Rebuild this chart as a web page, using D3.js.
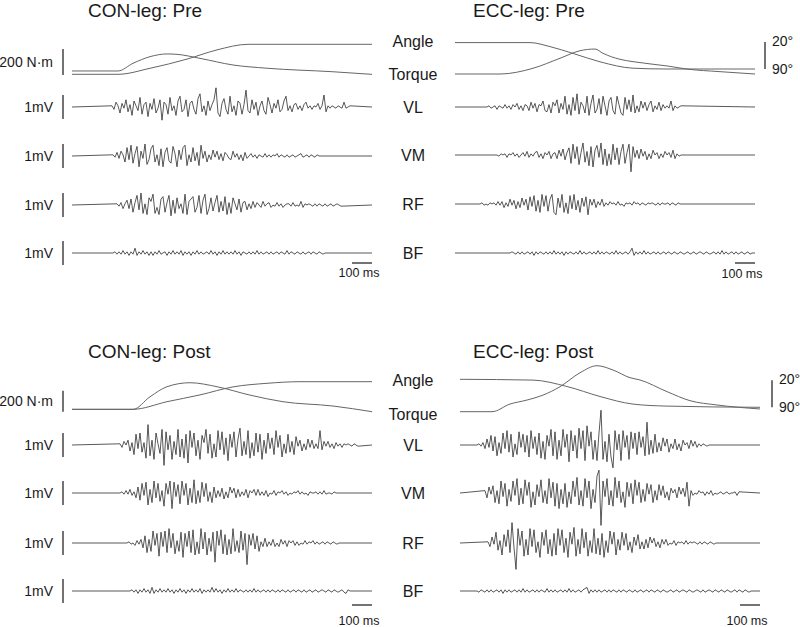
<!DOCTYPE html>
<html>
<head>
<meta charset="utf-8">
<script src="https://cdn.jsdelivr.net/npm/d3@7"></script>
<style>
  body { margin: 0; background: #fff; }
  svg { display: block; font-family: "Liberation Sans", Arial, sans-serif; }
</style>
</head>
<body>
<div id="chart"></div>
<script>
const rowLabels = ["Angle", "Torque", "VL", "VM", "RF", "BF"]
const TRACE_MS = 1500
const EMG_STEP_MS = 10      // one EMG sample every 10 ms
const EMG_UNIT_MV = 0.05    // EMG values are in units of 0.05 mV

// knee angle (deg) and torque (N·m) against time (ms)
const conPreAngle = [[0, 90], [230, 90], [390, 75], [575, 52], [725, 29], [880, 15], [1500, 15]]
const conPreTorque = [[0, 31], [230, 31], [305, 90], [390, 141], [475, 162], [525, 159], [640, 128], [805, 77], [975, 52], [1305, 25], [1500, 5]]
const eccPreAngle = [[0, 24], [375, 24], [475, 34], [590, 51], [725, 72], [890, 88], [1060, 90], [1500, 90]]
const eccPreTorque = [[0, 0], [225, 0], [390, 44], [525, 121], [625, 179], [700, 192], [740, 159], [825, 113], [890, 95], [1060, 62], [1160, 38], [1325, 18], [1500, 0]]
const conPostAngle = [[0, 90], [305, 90], [475, 71], [640, 54], [805, 34], [975, 25], [1140, 21], [1500, 21]]
const conPostTorque = [[0, 22], [305, 22], [390, 142], [475, 238], [590, 276], [725, 238], [890, 158], [1055, 95], [1305, 54], [1500, 0]]
const eccPostAngle = [[0, 20], [365, 22], [535, 38], [700, 63], [865, 82], [1035, 87], [1500, 90]]
const eccPostTorque = [[0, 0], [160, 0], [250, 73], [335, 111], [415, 158], [500, 238], [600, 371], [685, 438], [765, 397], [850, 324], [900, 302], [1035, 191], [1150, 105], [1285, 64], [1500, 26]]

// EMG onset (ms) for VL, VM, RF, BF
const conPreOnsets = [200, 205, 225, 205]
const eccPreOnsets = [160, 210, 125, 275]
const conPostOnsets = [240, 240, 275, 290]
const eccPostOnsets = [85, 125, 140, 85]

// EMG samples
const conPreVL = [1,-2,4,1,-5,3,-1,6,-4,2, -7,5,1,-3,8,-6,2,4,-8,3, -2,7,-5,-1,6,-11,4,2,-6,8, -3,1,-7,5,9,-4,-2,6,-8,3, 5,-2,-6,7,11,-4,1,-7,5,-3, 2,6,16,-5,-8,3,7,-2,-6,9, -4,1,-7,5,3,-6,2,14,-3,-5, 6,-2,4,-7,1,5,-3,-6,8,2, -5,3,-1,6,-4,-2,5,9,-3,1, -4,2,3,-2,1,-3,2,4,-1,1, -2,1,0,3,-2,1,10,-4,1,-1, 1,0,-1,1,0,-1,4,-1,0,1]
const conPreVM = [1,-1,3,-2,4,1,-5,7,-3,9, -6,2,8,-9,4,-2,10,-7,-3,6, 9,-5,1,-8,6,-9,3,7,-4,-6, 8,2,-9,5,-3,7,9,-8,1,-5, 7,-4,3,-8,9,-2,4,-5,1,-3, 5,-1,4,-3,2,-4,3,1,-2,-3, 4,-1,2,-3,1,-4,3,-2,0,2, -1,1,-2,1,0,-1,2,-1,1,-1, 1,0,2,-1,1,0,-1,1,-1,0, 1,-1,0,1,2,-1,0,1,-1,1, 0,-1,1,0]
const conPreRF = [1,-1,2,-3,1,4,-3,5,-6,2, 8,-4,10,-7,1,-8,6,3,9,-7, -2,-8,5,7,-6,2,8,-9,4,-7, 6,-3,1,-7,9,-8,3,5,7,-6, -2,8,-7,4,9,-8,-3,6,-5,2, 8,-6,3,-5,7,-8,2,-7,6,1, -4,5,-6,2,3,-4,1,-3,3,-2, 2,0,-2,3,-1,1,2,-2,0,-1, 2,-1,1,-2,0,1,1,-1,2,-1, 0,-1,3,-2,1,0,1,0,-1,1, -1,1,0,-1,1,-1,0,1,-1,0,1,0,-1]
const conPreBF = [0,1,-1,1,-1,2,-1,1,-2,1, -1,4,-2,1,-1,2,-1,1,-2,1, -2,1,-1,2,-1,0,1,-2,1,-1, 2,-1,1,-1,2,-2,1,-1,1,-2, 1,-1,2,-1,1,-1,0,1,-1,2, -1,1,-2,1,-1,2,-1,1,-1,1, -1,2,-1,1,-2,1,0,-1,1,-1, 1,-1,2,-1,1,-1,0,1,-1,1, -1,0,1,-1,1,0,-1,2,-1,1, 0,-1,1,0,-1,1,-1,0,1,-1, 1,0,-1,1,0,-1,0]

const eccPreVL = [0,1,-1,0,1,-2,1,0,-1,2, -1,1,-2,2,0,3,-2,1,-3,2, 1,-3,4,-1,3,-4,2,1,5,-3, -4,2,-5,4,1,6,-5,3,-2,9, -6,2,-7,8,-3,11,-6,4,1,-5, 9,-7,3,10,-5,-2,7,-6,9,1, -7,5,8,-3,-6,9,2,-5,-7,8, -2,6,-4,10,-5,1,-4,5,-1,4, -3,2,5,-4,1,-2,4,-3,2,-1, 1,-1,5,-3,1,-1,0,1]
const eccPreVM = [0,-1,1,0,1,-2,1,0,2,-1, 1,-2,0,2,-1,3,-2,1,-1,2, 3,-2,1,-3,2,0,3,-3,1,2, -3,4,-1,5,-4,2,6,-7,9,-3, 7,-8,2,10,-6,3,-9,7,-10,4, 8,-2,10,-8,5,-9,1,-8,9,-4, 6,-8,3,9,-7,2,9,-14,7,-2, 4,-3,5,-1,3,-4,1,-3,4,0, 2,-3,1,-2,3,0,2,-2,4,-3, 1,-1,0]
const eccPreRF = [0,1,-1,0,-1,1,0,1,-1,2, -1,2,-3,1,-2,4,-1,3,-4,2, -3,5,-1,4,-5,6,-2,7,-6,3, -7,8,-2,7,-6,4,8,-7,-9,5, -3,8,-7,1,-8,7,-4,8,-5,3, -7,5,-2,6,-9,4,-1,4,-3,2, -1,4,-2,1,-1,2,0,1,-1,2, -1,0,-2,1,0,1,-1,2,0,1, -1,1,0,-1,1,0,1,0,-1,1, -1,1,0,0,1,-1,1,0,-1,1,0,0]
const eccPreBF = [0,1,0,-1,1,-1,1,-1,0,1, -1,1,-2,1,-1,1,0,-1,1,-1, 1,-1,2,-1,1,-1,1,-2,1,-1, 1,0,-1,1,-1,2,-1,1,-1,0, 1,-1,1,-1,2,-1,1,-1,1,0, -1,1,-1,2,-1,1,-1,0,1,-1, 1,4,-2,1,-1,1,-1,2,-1,1, -1,0,1,-1,1,-1,0,1,-1,1, 0,-1,1,0,-1,1,0,-1,0,1, -1,0,1,-1,0,1,0,-1,1,0, -1,0,1,-1,1,-1,2,-1,1,-1, 0,1,-1,1,-1,0,1,-1,0,1,-1,0]

const conPostVL = [1,-2,3,0,4,-5,2,-8,9,-3, 10,-6,2,-11,17,-9,4,-12,10,1, -7,13,-17,11,-4,8,-12,3,-8,13, -10,5,-11,9,-15,12,-2,10,-9,4, -12,8,2,13,-7,9,-11,1,-10,12, -4,11,-8,6,-13,9,-2,11,-10,5, 14,-9,3,-8,12,-11,2,-9,10,-6, 9,-12,4,-7,10,-3,6,-8,12,-2, 8,-10,1,-7,9,-6,3,-8,7,-1, 4,-5,1,-4,5,-2,4,-3,1,-3, 12,-4,3,-1,3,-2,1,-3,2,-1, 1,-2,1,0,1,0,-1,1,0,-1]
const conPostVM = [0,1,-1,2,-1,3,-2,1,-4,5, -6,8,-2,9,-10,3,-8,10,-4,8, -7,2,-11,8,-1,10,-13,9,-3,7, -9,10,-2,8,-10,4,-8,11,-9,2, -8,9,-3,8,-7,1,-8,5,-4,2, -3,4,-5,1,-4,5,0,4,-4,3, -3,1,-2,3,-4,2,0,3,-2,3, -2,1,-2,2,-3,0,-1,2,-2,1, 0,2,-1,1,-2,0,-1,1,0,2, -1,1,-1,0,-2,1,0,0,1,-1, 1,-1,2,-1,0,0,-1,1,0,0]
const conPostRF = [0,1,-1,0,-2,2,-1,3,-4,6, -8,3,-7,10,-2,8,-11,9,-3,10, -8,12,-4,8,-9,2,-7,9,-12,8, -3,10,-8,11,-10,1,-9,12,-5,9, -10,4,-7,9,-16,10,-2,11,-9,7, -10,3,-9,12,-7,2,-8,10,-6,8, -18,7,-2,8,-5,6,-7,1,-3,4, -3,1,-2,3,-3,0,-3,3,-1,2, -3,2,0,2,-2,1,-2,0,-1,2, -1,1,0,2,-1,1,-1,0,1,-1, 1,0,-1,1,0,-1,0]
const conPostBF = [0,1,-1,1,-2,1,-1,2,-1,1, -2,3,-2,1,-1,2,-1,1,-1,2, -1,1,-2,1,-1,2,-1,1,-2,1, -1,2,-1,1,-1,2,-2,1,-1,1, -1,3,-1,2,-1,1,-2,1,-1,2, -1,1,-1,2,-1,1,0,-1,1,-1, 1,-1,2,-1,1,-1,0,1,-1,1, -1,1,0,-1,1,-1,1,0,-1,1, -1,0,1,-1,1,0,-1,1,-1,0, 1,-1,0,1,-1,0,1,0,-1,1, 0,-1,1,0,-1,0,1,-1,-2,1,0,0]

const eccPostVL = [0,1,-1,2,-3,5,-2,8,-5,7, -9,2,-7,10,-3,12,-6,9,-10,1, -8,11,-2,9,-6,8,-10,12,-3,7, -8,10,-11,3,-12,8,-1,13,-9,11, -12,4,-9,13,-2,9,-14,12,-5,8, -11,14,-3,12,-13,16,-1,11,-12,4, -13,10,29,-12,3,-14,9,-10,-19,12, -4,9,-13,12,-2,8,-12,11,-3,10, -8,11,-2,7,-9,19,-8,4,-7,9, -6,2,-5,6,-1,5,-6,1,-3,5, -4,1,-5,4,0,2,-3,4,-1,3, -2,1,-1,1,0,-1,0]
const eccPostVM = [2,-4,5,-1,6,-8,2,-9,10,-3, 8,-11,3,-7,10,-2,12,-10,4,-9, 11,-2,9,-12,1,-10,7,-3,11,-8, 2,-9,12,-4,9,-11,8,-13,3,-9, 8,-12,1,-9,10,-3,13,-10,2,-11, 12,-4,10,-13,3,-8,14,19,-27,10, -3,12,-10,2,-11,13,-4,10,-8,1, -12,9,-3,8,-9,11,-2,9,-8,3, -7,8,-1,7,-8,2,-6,7,-2,6, -4,1,-6,4,0,3,-4,5,-1,4, -3,9,-11,2,-2,0,-1,2,0,1, -2,1,-1,2,-2,0,-1,0,1,-1, 0,1,-1,0,0,1,-2,1]
const eccPostRF = [1,-3,5,-1,9,-6,2,-10,7,-3, 11,-8,17,-4,-22,12,-2,10,-11,3, -10,12,-3,11,-8,1,-12,9,-2,11, -9,3,-11,8,-10,12,-2,11,-8,4, -12,9,-1,13,-11,3,-9,12,-4,9, -11,2,-8,12,-9,4,-10,8,-12,2, -8,10,-1,9,-10,3,-6,9,-2,8, -6,1,-8,5,-2,7,-5,1,-5,3, -4,5,0,4,-3,1,-4,3,-1,3, -2,0,-1,2,-2,1,0,1,-1,2, -1,1,0,1,0,-1,1,-1,1,0, -1,1,0,-1,0,0]
const eccPostBF = [0,-1,1,0,-1,1,-1,1,-1,0, 1,-1,1,-2,1,-1,1,-1,0,1, -1,1,-1,2,-1,1,-1,0,1,-1, 1,-1,1,0,-1,2,-1,1,-1,1, -1,0,1,-1,1,-1,2,-1,1,-1, 0,1,-1,1,2,3,-2,1,-1,1, -1,1,-1,0,1,-1,1,-1,1,0, -1,1,-1,1,0,-1,1,0,-1,1, -1,0,1,-1,0,1,-1,1,0,-1, 1,0,-1,1,0,-1,0,1,-1,0, 1,-1,0,1,0,-1,1,0,-1,0, 1,0,-1,1,-1,0,1,0,-1,1, 0,-1,1,0,-1,1,0,-1,0,1, -1,1,0,-1,1,0,-1,0]

// layout of the four panels
const panels = [
  { title: "CON-leg: Pre", titleX: 88, titleY: 17, x0: 72, side: "left",
    angle: conPreAngle, torque: conPreTorque, angleY90: 74.3, torqueY0: 75, torquePx200: 26,
    emg: [conPreVL, conPreVM, conPreRF, conPreBF], onsets: conPreOnsets,
    rows: [107, 156, 205, 253], timeBarY: 263, timeTextY: 277 },
  { title: "ECC-leg: Pre", titleX: 473, titleY: 17, x0: 455, side: "right", barX: 765,
    angle: eccPreAngle, torque: eccPreTorque, angleY90: 69, torqueY0: 74, torquePx200: 26,
    emg: [eccPreVL, eccPreVM, eccPreRF, eccPreBF], onsets: eccPreOnsets,
    rows: [107, 155, 204, 253], timeBarY: 263, timeTextY: 278 },
  { title: "CON-leg: Post", titleX: 88, titleY: 358, x0: 72, side: "left",
    angle: conPostAngle, torque: conPostTorque, angleY90: 409.3, torqueY0: 411.7, torquePx200: 21,
    emg: [conPostVL, conPostVM, conPostRF, conPostBF], onsets: conPostOnsets,
    rows: [445, 493, 543, 591], timeBarY: 605, timeTextY: 625 },
  { title: "ECC-leg: Post", titleX: 473, titleY: 358, x0: 460, side: "right", barX: 772,
    angle: eccPostAngle, torque: eccPostTorque, angleY90: 407.3, torqueY0: 411.7, torquePx200: 21,
    emg: [eccPostVL, eccPostVM, eccPostRF, eccPostBF], onsets: eccPostOnsets,
    rows: [445, 493, 543, 591], timeBarY: 605, timeTextY: 625 }
]

const svg = d3.select("#chart").append("svg")
  .attr("width", 800)
  .attr("height", 627)

const textColor = "#1a1a1a"

panels.forEach(p => {
  const g = svg.append("g")
  const x = d3.scaleLinear().domain([0, TRACE_MS]).range([p.x0, p.x0 + 300])

  g.append("text")
    .attr("x", p.titleX).attr("y", p.titleY)
    .attr("font-size", "19px").attr("fill", textColor)
    .text(p.title)

  // mechanical traces
  const yAngle = d3.scaleLinear().domain([90, 20]).range([p.angleY90, p.angleY90 - 28])
  const yTorque = d3.scaleLinear().domain([0, 200]).range([p.torqueY0, p.torqueY0 - p.torquePx200])

  const angleLine = d3.line().curve(d3.curveMonotoneX)
    .x(d => x(d[0])).y(d => yAngle(d[1]))
  const torqueLine = d3.line().curve(d3.curveMonotoneX)
    .x(d => x(d[0])).y(d => yTorque(d[1]))

  g.append("path").attr("d", angleLine(p.angle))
    .attr("fill", "none").attr("stroke", "#666").attr("stroke-width", 1)
  g.append("path").attr("d", torqueLine(p.torque))
    .attr("fill", "none").attr("stroke", "#666").attr("stroke-width", 1)

  // EMG traces
  p.emg.forEach((vals, i) => {
    const cy = p.rows[i]
    const y = d3.scaleLinear().domain([-0.5, 0.5]).range([cy + 12, cy - 12])
    const onset = p.onsets[i]
    const pts = [[0, 0]].concat(vals.map((v, k) => [onset + k * EMG_STEP_MS, v * EMG_UNIT_MV]))
    const last = onset + (vals.length - 1) * EMG_STEP_MS
    if (last < TRACE_MS) pts.push([TRACE_MS, 0])

    const emgLine = d3.line().x(d => x(d[0])).y(d => y(d[1]))
    g.append("path").attr("d", emgLine(pts))
      .attr("fill", "none").attr("stroke", "#222").attr("stroke-width", 0.75)

    if (p.side === "left") {
      g.append("line")
        .attr("x1", 63).attr("x2", 63)
        .attr("y1", y(-0.5)).attr("y2", y(0.5))
        .attr("stroke", "#444").attr("stroke-width", 1.5)
      g.append("text")
        .attr("x", 53).attr("y", cy + 5)
        .attr("text-anchor", "end").attr("font-size", "14px").attr("fill", textColor)
        .text("1mV")
    }
  })

  // scale bars for torque (left) and angle (right)
  if (p.side === "left") {
    g.append("line")
      .attr("x1", 63).attr("x2", 63)
      .attr("y1", yTorque(0)).attr("y2", yTorque(200))
      .attr("stroke", "#444").attr("stroke-width", 1.5)
    g.append("text")
      .attr("x", 53).attr("y", (yTorque(0) + yTorque(200)) / 2 + 5)
      .attr("text-anchor", "end").attr("font-size", "14px").attr("fill", textColor)
      .text("200 N·m")
  } else {
    g.append("line")
      .attr("x1", p.barX).attr("x2", p.barX)
      .attr("y1", yAngle(20) + 1).attr("y2", yAngle(90))
      .attr("stroke", "#444").attr("stroke-width", 1.5)
    g.append("text")
      .attr("x", p.barX + 7).attr("y", yAngle(20) + 4.5)
      .attr("font-size", "14px").attr("fill", textColor)
      .text("20°")
    g.append("text")
      .attr("x", p.barX + 7).attr("y", yAngle(90) + 4.5)
      .attr("font-size", "14px").attr("fill", textColor)
      .text("90°")
  }

  // 100 ms time bar
  g.append("line")
    .attr("x1", x(TRACE_MS - 100)).attr("x2", x(TRACE_MS))
    .attr("y1", p.timeBarY).attr("y2", p.timeBarY)
    .attr("stroke", "#444").attr("stroke-width", 1.5)
  g.append("text")
    .attr("x", (x(TRACE_MS - 100) + x(TRACE_MS)) / 2 - 3).attr("y", p.timeTextY)
    .attr("text-anchor", "middle").attr("font-size", "12.5px").attr("fill", textColor)
    .text("100 ms")
})

// shared row labels between left and right panels
const labelRows = [
  [46.5, 80, 113, 161, 210, 259],
  [385.5, 419.5, 451, 499, 549, 597]
]
labelRows.forEach(ys => {
  svg.append("g").selectAll("text")
    .data(rowLabels)
    .join("text")
    .attr("x", 413)
    .attr("y", (d, i) => ys[i])
    .attr("text-anchor", "middle")
    .attr("font-size", "16px")
    .attr("fill", textColor)
    .text(d => d)
})
</script>
</body>
</html>
